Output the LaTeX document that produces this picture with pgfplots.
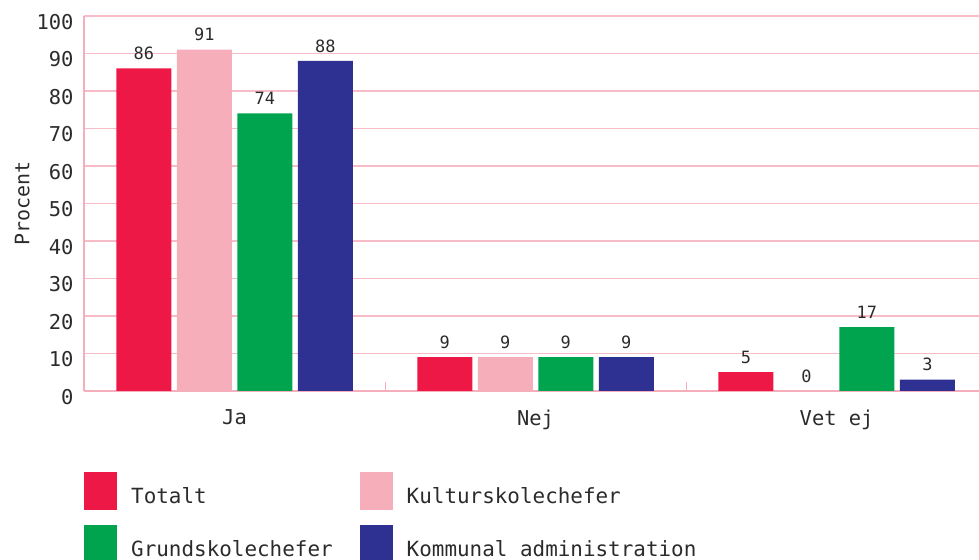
\documentclass[border=0pt]{standalone}
\usepackage{fontspec}
\setmainfont{DejaVu Sans Mono}
\usepackage{pgfplots}
\pgfplotsset{compat=1.18}
\definecolor{cRed}{HTML}{EE1846}
\definecolor{cPink}{HTML}{F6AFBA}
\definecolor{cGreen}{HTML}{00A44E}
\definecolor{cNavy}{HTML}{2E3192}
\definecolor{gridpink}{HTML}{F7BCC7}
\definecolor{axispink}{HTML}{F5AFBC}
\definecolor{txt}{HTML}{2B2B2B}
\pgfplotsset{sq/.style={legend image code/.code={\fill[##1] (0bp,-14bp) rectangle (33bp,24bp);}}}
\begin{document}
\begin{tikzpicture}
\begin{axis}[
  at={(84bp,169bp)}, anchor=south west,
  scale only axis, width=895bp, height=375bp,
  ybar=5.5bp, bar width=55bp,
  xmin=-0.5, xmax=2.473, ymin=0, ymax=100,
  xtick={0,1,2}, xticklabels={Ja,Nej,Vet ej},
  xtick style={draw=none},
  extra x ticks={0.5,1.5}, extra x tick labels={},
  extra x tick style={xtick style={draw=axispink, line width=1pt}, major tick length=9bp, tick align=inside, grid=none},
  ytick={0,10,...,100},
  ytick style={draw=none},
  ymajorgrids, grid style={gridpink, line width=1.2pt},
  axis x line*=bottom, axis y line*=left,
  axis line style={axispink, line width=2.2pt, -},
  tick label style={font=\fontsize{20.5}{24}\selectfont, text=txt},
  /pgf/number format/assume math mode=true,
  yticklabel style={xshift=-7bp, yshift=-6bp},
  ylabel={Procent}, ylabel style={font=\fontsize{20}{24}\selectfont, text=txt},
  ylabel shift=0bp,
  xticklabel style={yshift=-11bp},
  nodes near coords,
  every node near coord/.append style={font=\fontsize{17}{20}\selectfont, text=txt, yshift=5bp},
  legend style={at={(axis description cs:0,-0.216)}, anchor=north west, draw=none, fill=none, inner sep=0pt,
    nodes={inner xsep=7bp, inner ysep=0pt},
    font=\fontsize{21}{25}\selectfont, text=txt,
    /tikz/every odd column/.append style={column sep=7bp},
    /tikz/every even column/.append style={column sep=20bp}, row sep=15bp},
  legend columns=2, legend cell align=left,
]
\addplot[fill=cRed, draw=none, sq] coordinates {(0,86) (1,9) (2,5)};
\addplot[fill=cPink, draw=none, sq] coordinates {(0,91) (1,9) (2,0)};
\addplot[fill=cGreen, draw=none, sq] coordinates {(0,74) (1,9) (2,17)};
\addplot[fill=cNavy, draw=none, sq] coordinates {(0,88) (1,9) (2,3)};
\legend{Totalt, Kulturskolechefer, Grundskolechefer, Kommunal administration}
\end{axis}
\pgfresetboundingbox
\path[use as bounding box] (0,0) rectangle (979bp,560bp);
\end{tikzpicture}
\end{document}
